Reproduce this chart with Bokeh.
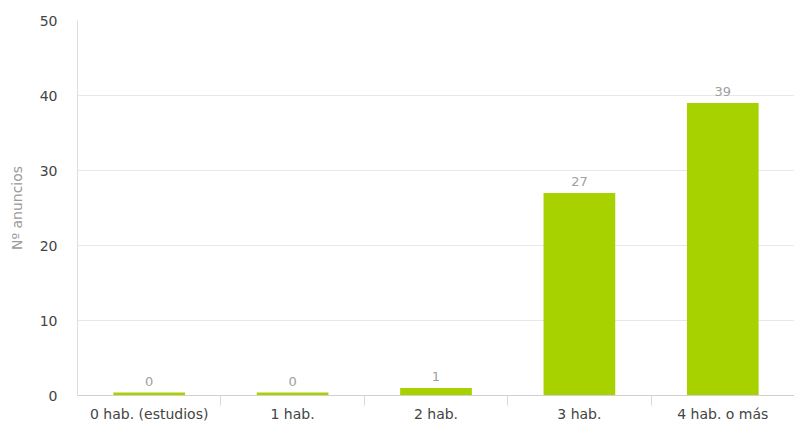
from bokeh.plotting import figure
from bokeh.models import ColumnDataSource, FixedTicker, Range1d
from bokeh.embed import file_html
from bokeh.resources import INLINE
from bokeh.core.properties import value

categories = ["0 hab. (estudios)", "1 hab.", "2 hab.", "3 hab.", "4 hab. o más"]
counts = [0, 0, 1, 27, 39]
y_ticks = [0, 10, 20, 30, 40, 50]
y_label = "Nº anuncios"

FONT = "DejaVu Sans"
BAR = "#a8d100"

xs = [i + 0.5 for i in range(len(categories))]
shown = [max(c, 0.4) for c in counts]  # zero bars drawn as thin sliver, like the original
src = ColumnDataSource(dict(x=xs, top=shown, v=counts, lbl=[str(c) for c in counts]))

p = figure(width=794, height=424, output_backend="svg", toolbar_location=None,
           x_range=Range1d(0, len(categories)), y_range=Range1d(0, 50),
           min_border_left=77, min_border_right=0, min_border_top=20, min_border_bottom=27)

p.vbar(x="x", top="top", bottom=0, width=0.5, source=src, fill_color=BAR, line_color=None)
p.text(x="x", y="top", text="lbl", source=src, text_align="center", text_baseline="bottom",
       y_offset=-7, text_font=value(FONT), text_font_size="13px", text_color="#a0a0a0")

# x axis: labels at category centres, ticks at category boundaries
xa = p.xaxis[0]
xa.ticker = FixedTicker(ticks=xs, minor_ticks=list(range(1, len(categories))))
xa.major_label_overrides = {x: c for x, c in zip(xs, categories)}
xa.major_tick_line_color = None
xa.major_tick_out = 0
xa.minor_tick_in = 0
xa.minor_tick_out = 10
xa.minor_tick_line_color = "#d8d8d8"
xa.axis_line_color = "#d0d0d0"
xa.major_label_standoff = 0
xa.major_label_text_font = FONT
xa.major_label_text_font_size = "14px"
xa.major_label_text_color = "#444444"

ya = p.yaxis[0]
ya.ticker = FixedTicker(ticks=y_ticks)
ya.major_tick_line_color = None
ya.minor_tick_line_color = None
ya.major_tick_out = 0
ya.axis_line_color = "#dddddd"
ya.major_label_standoff = 20
ya.major_label_text_font = FONT
ya.major_label_text_font_size = "14px"
ya.major_label_text_color = "#444444"
ya.axis_label = y_label
ya.axis_label_text_font = FONT
ya.axis_label_text_font_size = "14px"
ya.axis_label_text_font_style = "normal"
ya.axis_label_text_color = "#9a9a9a"
ya.axis_label_standoff = 12

p.xgrid.grid_line_color = None
p.ygrid.grid_line_color = "#e8e8e8"
p.outline_line_color = None
p.background_fill_color = "white"

open("out.html", "w").write(file_html(p, INLINE))
